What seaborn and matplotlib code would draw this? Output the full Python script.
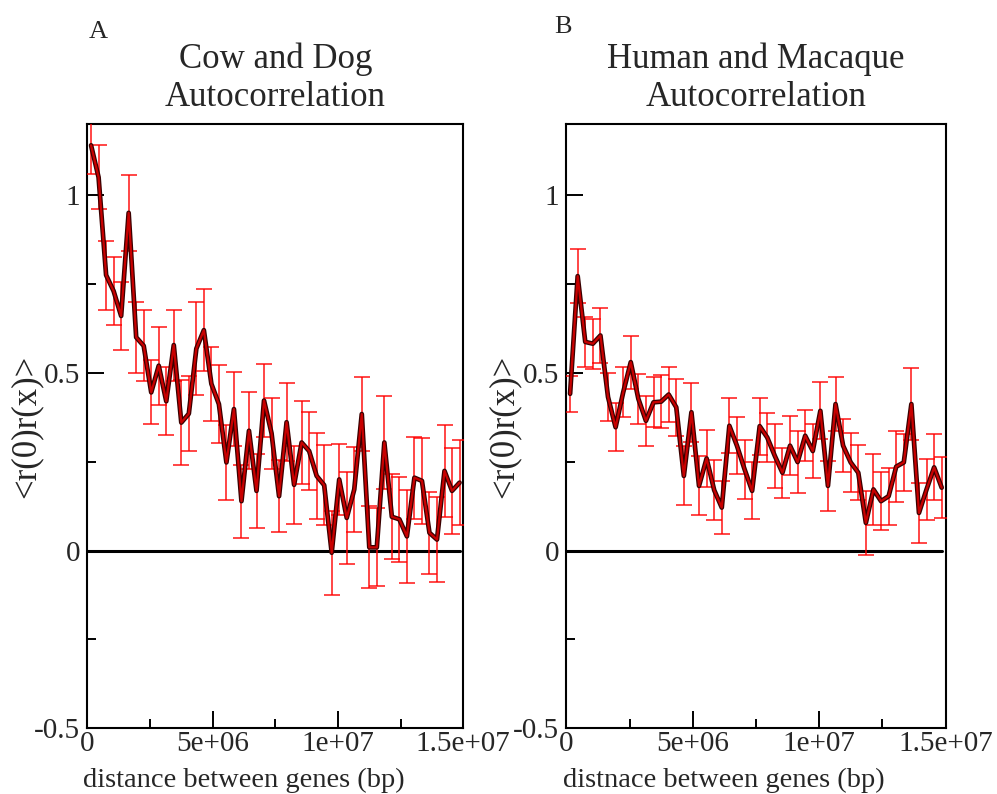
import numpy as np
import pandas as pd
import matplotlib
matplotlib.use("Agg")
import matplotlib.pyplot as plt
import matplotlib.patheffects as pe
from matplotlib.ticker import FixedLocator, FixedFormatter
import seaborn as sns

# ---------------- data ----------------
n_points = 50
x_start = 0.15e6
x_step = 0.3e6
distance = x_start + x_step * np.arange(n_points)

cow_dog_r = [1.14, 1.05, 0.775, 0.73, 0.66, 0.95, 0.60, 0.576, 0.445, 0.52,
             0.42, 0.578, 0.36, 0.385, 0.568, 0.62, 0.469, 0.412, 0.248, 0.398,
             0.139, 0.337, 0.168, 0.422, 0.33, 0.153, 0.361, 0.185, 0.304, 0.28,
             0.21, 0.184, -0.006, 0.20, 0.092, 0.172, 0.384, 0.009, 0.009, 0.304,
             0.095, 0.088, 0.04, 0.205, 0.196, 0.05, 0.031, 0.224, 0.168, 0.191]
cow_dog_err = [0.08, 0.09, 0.097, 0.095, 0.095, 0.107, 0.10, 0.10, 0.09, 0.11,
               0.095, 0.10, 0.12, 0.105, 0.13, 0.115, 0.104, 0.11, 0.105, 0.105,
               0.103, 0.108, 0.105, 0.103, 0.10, 0.102, 0.11, 0.11, 0.116, 0.11,
               0.12, 0.113, 0.118, 0.10, 0.13, 0.12, 0.105, 0.115, 0.11, 0.13,
               0.12, 0.12, 0.13, 0.115, 0.12, 0.116, 0.12, 0.13, 0.12, 0.12]

human_macaque_r = [0.441, 0.772, 0.587, 0.582, 0.605, 0.432, 0.347, 0.445, 0.53, 0.427,
                   0.365, 0.417, 0.419, 0.439, 0.403, 0.21, 0.389, 0.182, 0.259, 0.17,
                   0.121, 0.351, 0.295, 0.229, 0.168, 0.35, 0.318, 0.266, 0.219, 0.295,
                   0.249, 0.323, 0.28, 0.393, 0.182, 0.412, 0.295, 0.248, 0.219, 0.078,
                   0.172, 0.139, 0.153, 0.236, 0.248, 0.412, 0.106, 0.172, 0.234, 0.177]
human_macaque_err = [0.05, 0.075, 0.07, 0.07, 0.078, 0.068, 0.067, 0.07, 0.075, 0.07,
                     0.07, 0.07, 0.075, 0.078, 0.08, 0.083, 0.083, 0.083, 0.08, 0.085,
                     0.075, 0.077, 0.08, 0.083, 0.08, 0.08, 0.07, 0.09, 0.07, 0.083,
                     0.087, 0.072, 0.077, 0.08, 0.07, 0.075, 0.075, 0.082, 0.077, 0.09,
                     0.10, 0.082, 0.08, 0.10, 0.08, 0.102, 0.085, 0.085, 0.093, 0.085]

panel_letters = ["A", "B"]
titles = ["Cow and Dog\nAutocorrelation", "Human and Macaque\nAutocorrelation"]
xlabels = ["distance between genes (bp)", "distnace between genes (bp)"]
ylabel = "<r(0)r(x)>"
xtick_vals = [0, 5e6, 1e7, 1.5e7]
xtick_labels = ["0", "5e+06", "1e+07", "1.5e+07"]
xminor_vals = [2.5e6, 7.5e6, 1.25e7]
ytick_vals = [-0.5, 0, 0.5, 1]
ytick_labels = ["-0.5", "0", "0.5", "1"]
yminor_vals = [-0.25, 0.25, 0.75]

# ---------------- style ----------------
sns.set_style("white")
plt.rcParams["font.family"] = ["Liberation Serif", "DejaVu Serif"]
plt.rcParams["axes.linewidth"] = 1.5

fig = plt.figure(figsize=(9.97, 7.94), dpi=100)
W, H = 997, 794
ax_boxes = [(87.3, 124, 463.3, 728.3), (566.3, 124, 945.5, 728.3)]
letter_pos = [(89, 38), (554, 33)]

datasets = [(cow_dog_r, cow_dog_err), (human_macaque_r, human_macaque_err)]

for k in range(2):
    l, t, r, b = ax_boxes[k]
    ax = fig.add_axes([l / W, 1 - b / H, (r - l) / W, (b - t) / H])
    vals, errs = datasets[k]
    df = pd.DataFrame({"distance": distance, "r": vals, "err": errs})

    # zero reference line
    ax.plot([0, df["distance"].max()], [0, 0], color="black", lw=2.2, zorder=2)

    # error bars
    ax.errorbar(df["distance"], df["r"], yerr=df["err"], fmt="none",
                ecolor="#ff0000", elinewidth=1.2, capsize=6, capthick=1.2,
                alpha=0.85, zorder=3)
    # main line
    sns.lineplot(data=df, x="distance", y="r", ax=ax, color="#c80000", lw=1.6,
                 errorbar=None, zorder=4,
                 path_effects=[pe.Stroke(linewidth=3.4, foreground="#3a0000"), pe.Normal()])

    ax.set_xlim(0, 1.5e7)
    ax.set_ylim(-0.5, 1.2)

    ax.xaxis.set_major_locator(FixedLocator(xtick_vals))
    ax.xaxis.set_major_formatter(FixedFormatter(xtick_labels))
    ax.xaxis.set_minor_locator(FixedLocator(xminor_vals))
    ax.yaxis.set_major_locator(FixedLocator(ytick_vals))
    ax.yaxis.set_major_formatter(FixedFormatter(ytick_labels))
    ax.yaxis.set_minor_locator(FixedLocator(yminor_vals))

    ax.tick_params(axis="both", which="major", direction="in", length=12.5,
                   width=1.4, labelsize=21, color="black")
    ax.tick_params(axis="both", which="minor", direction="in", length=6.3,
                   width=1.4, color="black")
    ax.tick_params(axis="x", which="both", bottom=True, top=False, pad=2)
    ax.tick_params(axis="y", which="both", left=True, right=False, pad=5)

    for sp in ax.spines.values():
        sp.set_color("black")
        sp.set_linewidth(1.5)

    ax.set_xlabel(xlabels[k], fontsize=20.5)
    ax.xaxis.set_label_coords(0.416, -0.066)
    ax.set_ylabel(ylabel, fontsize=25)
    ax.yaxis.set_label_coords(-0.12, 0.5)
    ax.set_title(titles[k], fontsize=25, pad=7, va="bottom", linespacing=1.2)

    lx, ly = letter_pos[k]
    fig.text(lx / W, 1 - ly / H, panel_letters[k], fontsize=19, va="baseline", ha="left")

fig.savefig("out.png", dpi=100)
